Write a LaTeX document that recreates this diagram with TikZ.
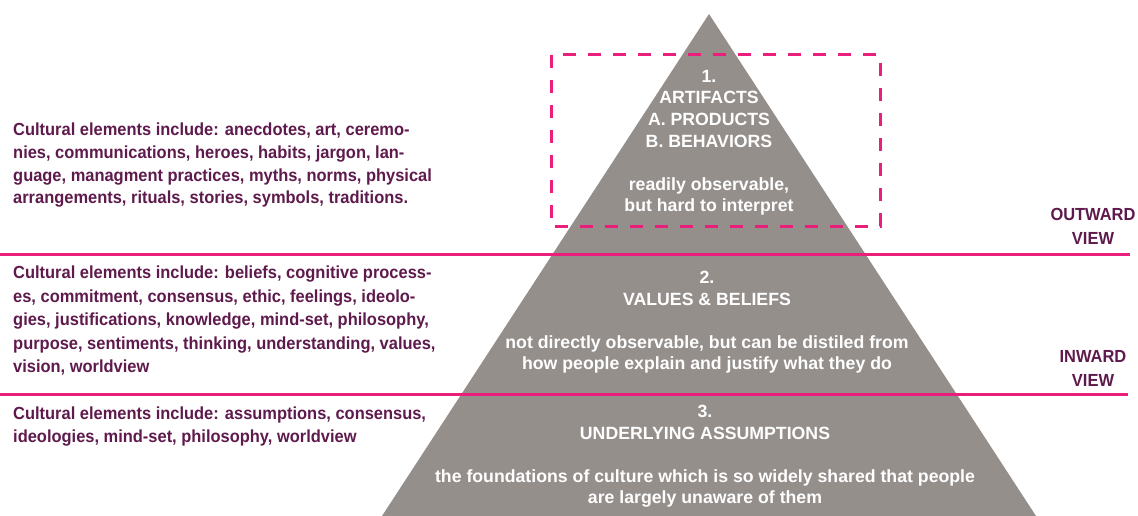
\documentclass[tikz,border=0pt]{standalone}
\usepackage{fontspec}
\setmainfont{Liberation Sans}
\newfontfamily\condbold{Liberation Sans Bold}[FakeStretch=0.94]
\definecolor{rockgray}{HTML}{958F8C}
\definecolor{linepink}{HTML}{EA1F7B}
\definecolor{plum}{HTML}{5E1A4C}
\begin{document}
\begin{tikzpicture}[x=1pt,y=-1pt]
        \tikzstyle{every node}=[inner sep=0pt]
        \tikzstyle{side text}=[anchor=north west,align=left,text=plum,font=\fontsize{17.5}{22.7}\selectfont\condbold]
        \tikzstyle{layer text}=[anchor=north,align=center,text=white,font=\fontsize{17.7}{21.6}\selectfont\bfseries]
        \tikzstyle{view text}=[align=center,text=plum,font=\fontsize{17.5}{24}\selectfont\condbold]
        \tikzstyle{level line}=[draw=linepink,line width=3pt]
        \useasboundingbox (0,0) rectangle (1138,516);
        % the pyramid
        \fill[rockgray] (709,14) coordinate (apex) -- (1036,516) coordinate (base east) -- (382,516) coordinate (base west) -- cycle;
        \draw[level line] (0,254) coordinate (outer west) -- (1130,254) coordinate (outer east);
        \draw[level line] (0,394) coordinate (inner west) -- (1128,394) coordinate (inner east);
        \draw[linepink,line width=3pt,dash pattern=on 13pt off 12pt] (551,55) coordinate (box nw) rectangle (880,226) coordinate (box se);
        % layers
        \node[layer text] (artifacts) at (709,70) {1.\\ARTIFACTS\\A. PRODUCTS\\B. BEHAVIORS\\[21.6pt]readily observable,\\but hard to interpret};
        \node[layer text] (values) at (707,271) {2.\\VALUES \& BELIEFS\\[21.6pt]not directly observable, but can be distiled from\\how people explain and justify what they do};
        \node[layer text] (assumptions) at (705,405) {3.\\UNDERLYING ASSUMPTIONS\\[21.6pt]the foundations of culture which is so widely shared that people\\are largely unaware of them};
        % elements on the left
        \node[side text] (artifacts elements) at (13,123) {Cultural elements include: anecdotes, art, ceremo-\\nies, communications, heroes, habits, jargon, lan-\\guage, managment practices, myths, norms, physical\\arrangements, rituals, stories, symbols, traditions.};
        \node[side text,font=\fontsize{17.5}{23.4}\selectfont\condbold] (values elements) at (13,266) {Cultural elements include: beliefs, cognitive process-\\es, commitment, consensus, ethic, feelings, ideolo-\\gies, justifications, knowledge, mind-set, philosophy,\\purpose, sentiments, thinking, understanding, values,\\vision, worldview};
        \node[side text] (assumptions elements) at (13,407) {Cultural elements include: assumptions, consensus,\\ideologies, mind-set, philosophy, worldview};
        % views
        \node[view text] (outward) at (1093,226) {OUTWARD\\VIEW};
        \node[view text] (inward) at (1093,368) {INWARD\\VIEW};
\end{tikzpicture}
\end{document}
